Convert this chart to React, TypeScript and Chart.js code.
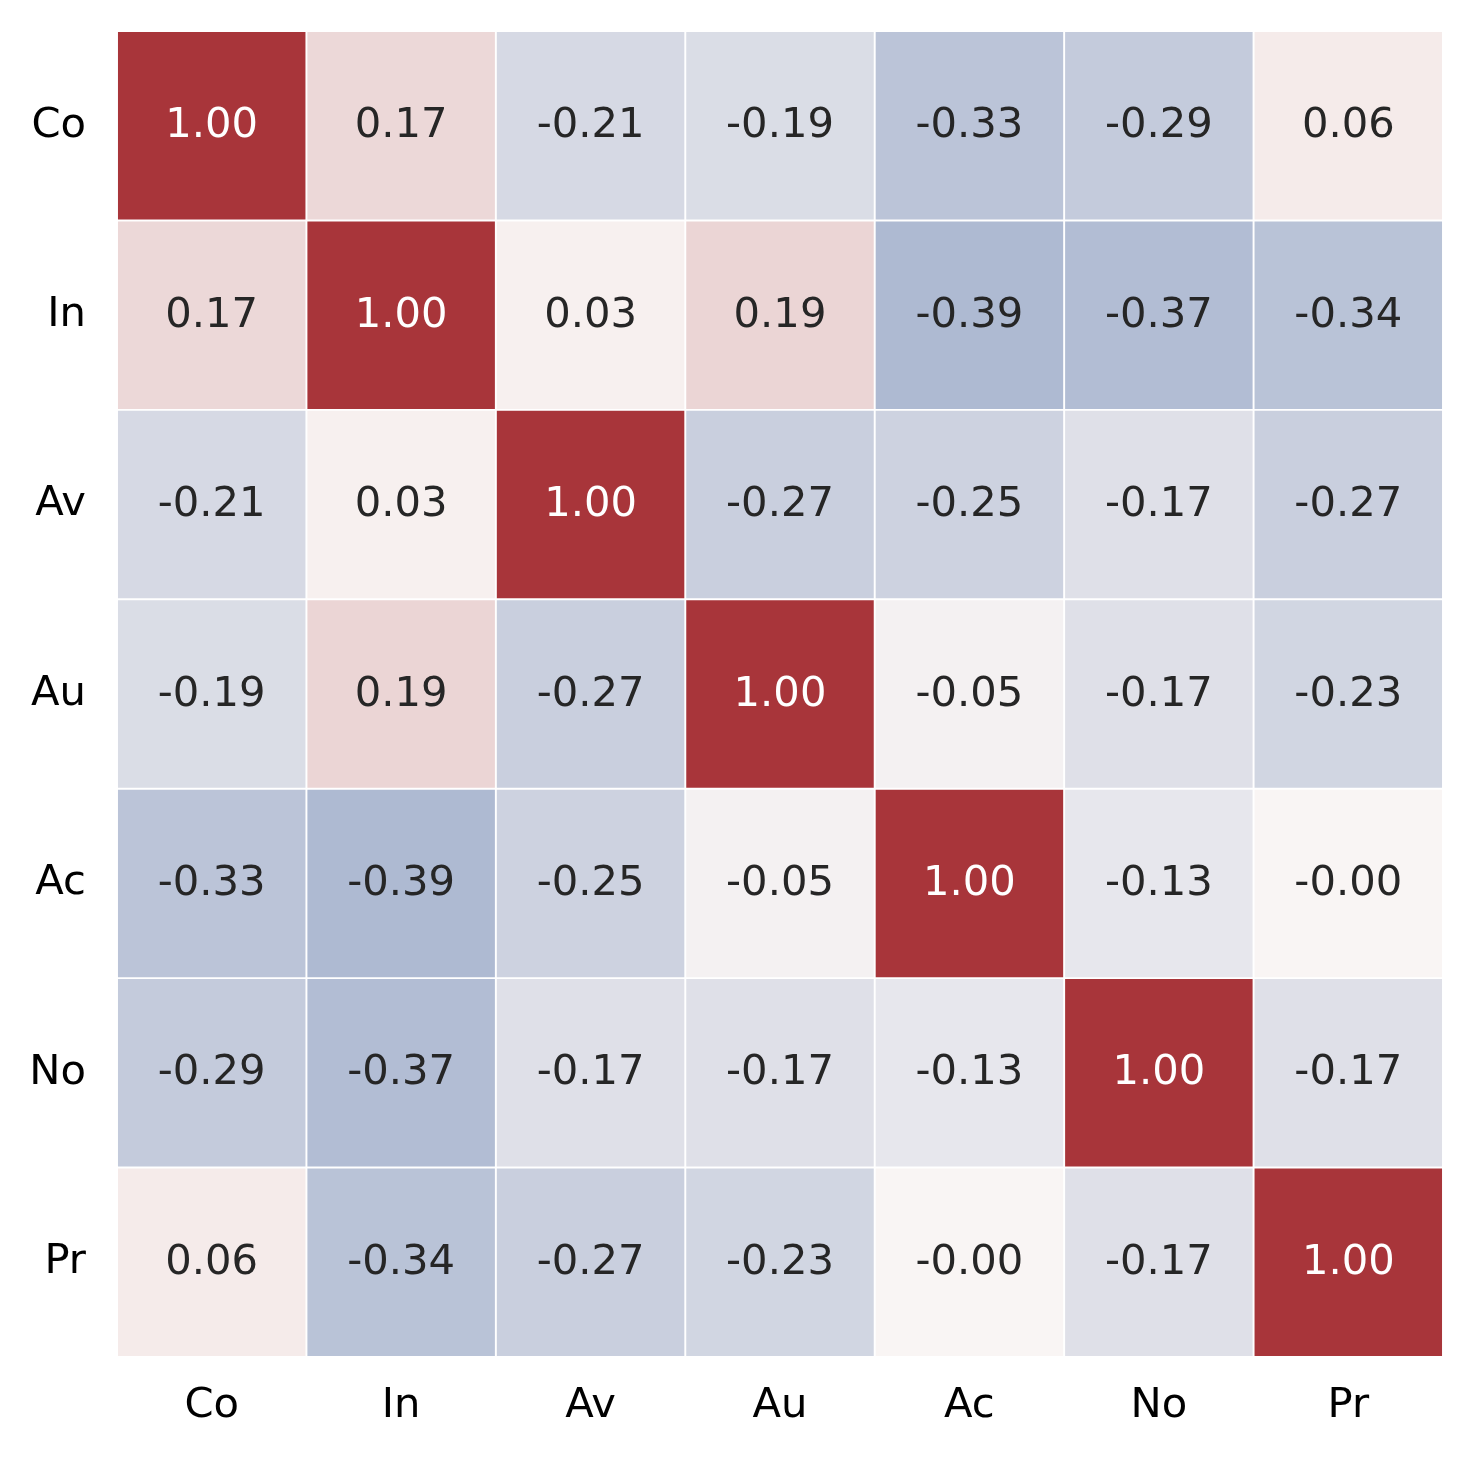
import { useEffect, useRef } from "react";
import { Chart, registerables } from "chart.js";

Chart.register(...registerables);

// Variable names, used for both axes
const LABELS = ["Co", "In", "Av", "Au", "Ac", "No", "Pr"];

// Correlation matrix, one row per variable
const ROW_CO = [1.0, 0.17, -0.21, -0.19, -0.33, -0.29, 0.06];
const ROW_IN = [0.17, 1.0, 0.03, 0.19, -0.39, -0.37, -0.34];
const ROW_AV = [-0.21, 0.03, 1.0, -0.27, -0.25, -0.17, -0.27];
const ROW_AU = [-0.19, 0.19, -0.27, 1.0, -0.05, -0.17, -0.23];
const ROW_AC = [-0.33, -0.39, -0.25, -0.05, 1.0, -0.13, -0.004];
const ROW_NO = [-0.29, -0.37, -0.17, -0.17, -0.13, 1.0, -0.17];
const ROW_PR = [0.06, -0.34, -0.27, -0.23, -0.004, -0.17, 1.0];

const MATRIX = [ROW_CO, ROW_IN, ROW_AV, ROW_AU, ROW_AC, ROW_NO, ROW_PR];

// Diverging colour map (blue -> near white -> red), value range -1..1
const CMAP_STOPS: [number, number[]][] = [
  [-1, [59, 95, 158]],
  [-0.39, [174, 186, 210]],
  [-0.2, [216, 219, 229]],
  [-0.1, [238, 236, 240]],
  [0, [249, 245, 244]],
  [0.19, [235, 213, 213]],
  [1, [168, 53, 58]],
];

function cellRgb(v: number): number[] {
  const x = Math.max(-1, Math.min(1, v));
  for (let i = 0; i < CMAP_STOPS.length - 1; i++) {
    const [a, ca] = CMAP_STOPS[i];
    const [b, cb] = CMAP_STOPS[i + 1];
    if (x >= a && x <= b) {
      const t = (x - a) / (b - a);
      return ca.map((c, k) => Math.round(c + (cb[k] - c) * t));
    }
  }
  return CMAP_STOPS[CMAP_STOPS.length - 1][1];
}

function cellColor(v: number): string {
  const [r, g, b] = cellRgb(v);
  return `rgb(${r}, ${g}, ${b})`;
}

function textColor(v: number): string {
  const [r, g, b] = cellRgb(v).map((c) => {
    const s = c / 255;
    return s <= 0.03928 ? s / 12.92 : Math.pow((s + 0.055) / 1.055, 2.4);
  });
  const lum = 0.2126 * r + 0.7152 * g + 0.0722 * b;
  return lum > 0.408 ? "#262626" : "#ffffff";
}

const FONT_SIZE = 41.7;
const FONT_FAMILY = "'DejaVu Sans', 'Liberation Sans', sans-serif";

// Writes the value of each cell at its centre
const cellValues = {
  id: "cellValues",
  afterDatasetsDraw(chart: any) {
    const ctx = chart.ctx;
    ctx.save();
    ctx.font = `${FONT_SIZE}px ${FONT_FAMILY}`;
    ctx.textAlign = "center";
    ctx.textBaseline = "alphabetic";
    chart.data.datasets.forEach((_ds: any, r: number) => {
      const meta = chart.getDatasetMeta(r);
      meta.data.forEach((el: any, c: number) => {
        const v = MATRIX[r][c];
        const cy = (el.y + el.base) / 2;
        ctx.fillStyle = textColor(v);
        ctx.fillText(v.toFixed(2), el.x, cy + 11.6);
      });
    });
    ctx.restore();
  },
};

export default function App() {
  const canvasRef = useRef<HTMLCanvasElement | null>(null);

  useEffect(() => {
    document.body.style.margin = "0";
    const canvas = canvasRef.current;
    if (!canvas) return;

    const datasets = MATRIX.map((row, r) => ({
      label: LABELS[r],
      data: row.map(() => [r - 0.5, r + 0.5]),
      backgroundColor: row.map(cellColor),
      borderColor: "#ffffff",
      borderWidth: 1.3,
      borderSkipped: false,
      grouped: false,
      barPercentage: 1,
      categoryPercentage: 1,
    }));

    const chart = new Chart(canvas, {
      type: "bar",
      data: { labels: LABELS, datasets: datasets as any },
      options: {
        responsive: false,
        animation: false,
        layout: { padding: { top: 31, right: 31, left: 0, bottom: 0 } },
        plugins: {
          legend: { display: false },
          tooltip: { enabled: false },
        },
        scales: {
          x: {
            type: "category",
            grid: { display: false, drawTicks: false },
            border: { display: false },
            ticks: {
              color: "#000000",
              padding: 24,
              maxRotation: 0,
              font: { size: FONT_SIZE, family: FONT_FAMILY },
            },
            afterFit(scale: any) {
              scale.height = 101;
              scale.paddingLeft = 0;
              scale.paddingRight = 0;
            },
          },
          y: {
            type: "linear",
            reverse: true,
            min: -0.5,
            max: 6.5,
            grid: { display: false, drawTicks: false },
            border: { display: false },
            afterBuildTicks(scale: any) {
              scale.ticks = LABELS.map((_, i) => ({ value: i }));
            },
            ticks: {
              color: "#000000",
              padding: 31,
              font: { size: FONT_SIZE, family: FONT_FAMILY },
              callback: (value: any) => LABELS[Number(value)] ?? "",
            },
            afterFit(scale: any) {
              scale.width = 117;
              scale.paddingTop = 0;
              scale.paddingBottom = 0;
            },
          },
        },
      },
      plugins: [cellValues],
    });

    return () => chart.destroy();
  }, []);

  return (
    <div style={{ width: 1474, height: 1458, background: "#ffffff" }}>
      <canvas ref={canvasRef} width={1474} height={1458} style={{ display: "block" }} />
    </div>
  );
}
